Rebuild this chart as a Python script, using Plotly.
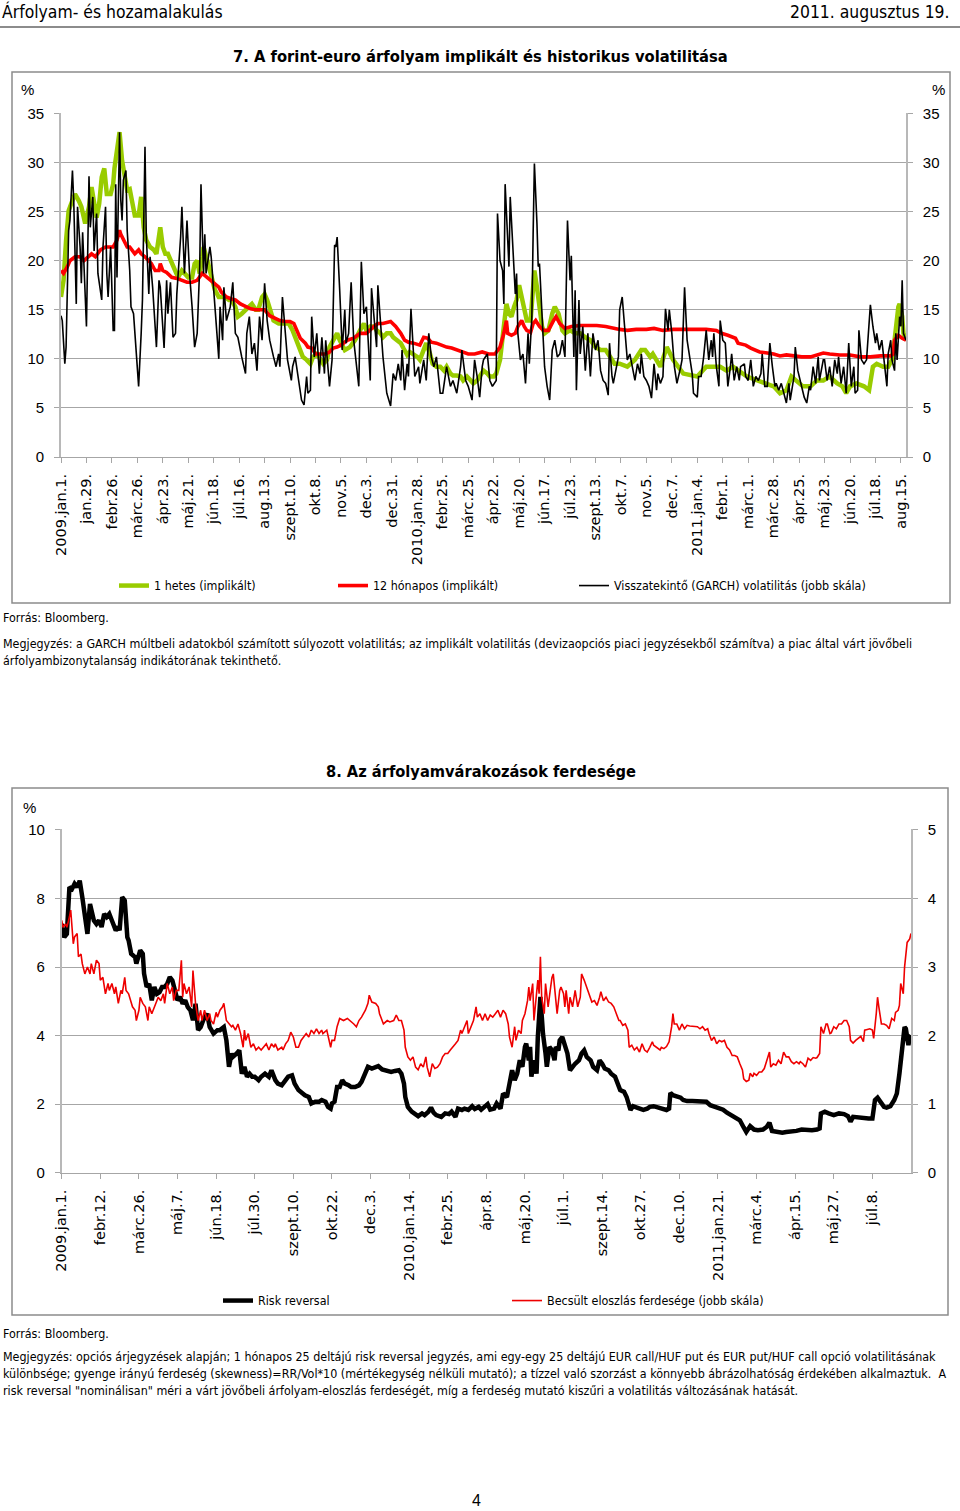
import plotly.graph_objects as go

W, H = 960, 1511

# ------------------------------------------------------------------ chart 7 data
# x = business-day index since 2009-01-01 (category axis, label every 20 days)
labels_7 = ["2009.jan.1.", "jan.29.", "febr.26.", "márc.26.", "ápr.23.", "máj.21.", "jún.18.",
            "júl.16.", "aug.13.", "szept.10.", "okt.8.", "nov.5.", "dec.3.", "dec.31.",
            "2010.jan.28.", "febr.25.", "márc.25.", "ápr.22.", "máj.20.", "jún.17.", "júl.23.",
            "szept.13.", "okt.7.", "nov.5.", "dec.7.", "2011.jan.4.", "febr.1.", "márc.1.",
            "márc.28.", "ápr.25.", "máj.23.", "jún.20.", "júl.18.", "aug.15."]
label_step_7 = 20
last_day_7 = 664

hetes_1 = [(0, 16.3), (2, 18.0), (4, 22.1), (6, 25.1), (8, 25.8), (11, 26.8), (14, 26.1), (16, 25.5),
           (19, 23.8), (22, 25.5), (24, 27.5), (26, 25.8), (28, 24.4), (30, 25.8), (32, 28.5), (34, 29.4),
           (36, 26.8), (39, 26.8), (41, 27.8), (42, 29.4), (44, 31.2), (46, 33.1), (48, 30.2), (50, 28.5),
           (52, 27.2), (54, 27.3), (56, 26.1), (58, 24.6), (61, 24.6), (63, 26.5), (65, 23.4), (67, 22.1),
           (70, 21.4), (73, 21.1), (75, 20.7), (77, 22.7), (78, 23.4), (80, 21.4), (82, 20.7), (84, 20.7),
           (87, 19.7), (90, 18.7), (92, 18.3), (95, 19.0), (97, 18.7), (100, 18.3), (103, 18.3), (105, 19.7),
           (107, 20.0), (109, 18.7), (111, 20.4), (112, 21.4), (115, 20.0), (117, 19.0), (119, 18.0),
           (121, 17.0), (124, 16.3), (126, 16.3), (129, 16.3), (132, 16.0), (134, 16.0), (137, 15.3),
           (139, 14.3), (142, 14.6), (145, 15.0), (147, 15.3), (150, 15.6), (153, 15.0), (155, 15.0),
           (158, 16.3), (160, 16.6), (162, 16.0), (164, 15.0), (167, 13.9), (171, 13.6), (175, 13.6),
           (179, 13.6), (182, 12.9), (185, 11.9), (188, 10.9), (190, 10.2), (193, 9.9), (196, 9.5),
           (198, 10.2), (201, 10.5), (204, 9.9), (206, 9.5), (209, 9.9), (211, 11.2), (214, 11.9),
           (217, 12.6), (219, 11.9), (223, 10.9), (227, 11.2), (231, 11.9), (235, 12.9), (238, 13.6),
           (240, 12.9), (243, 13.3), (246, 13.3), (248, 12.9), (251, 12.6), (253, 12.2), (256, 12.6),
           (259, 12.6), (261, 12.2), (264, 11.9), (267, 11.6), (269, 11.1), (272, 10.4), (274, 10.7),
           (277, 10.5), (280, 10.2), (282, 9.9), (285, 10.9), (287, 11.6), (290, 10.5), (292, 9.5),
           (295, 9.2), (298, 9.2), (301, 8.8), (303, 9.2), (306, 8.5), (308, 8.3), (311, 8.3), (314, 8.2),
           (316, 7.8), (319, 8.2), (322, 7.8), (324, 7.5), (327, 7.8), (329, 8.2), (332, 8.8), (335, 8.5),
           (337, 8.2), (340, 8.2), (342, 8.5), (345, 9.9), (347, 11.9), (349, 14.6), (350, 15.6),
           (352, 14.6), (354, 14.3), (356, 15.3), (358, 16.0), (360, 17.5), (362, 16.3), (364, 15.0),
           (366, 13.9), (369, 13.9), (370, 16.0), (372, 19.0), (374, 17.3), (376, 15.3), (378, 13.3),
           (380, 12.6), (383, 12.9), (386, 14.6), (388, 15.3), (391, 14.6), (394, 12.9), (396, 12.6),
           (400, 12.9), (404, 12.6), (408, 12.6), (412, 12.2), (416, 11.9), (420, 11.2), (424, 10.9),
           (428, 10.9), (432, 10.2), (435, 9.5), (439, 9.5), (445, 9.2), (451, 9.9), (456, 10.9),
           (459, 10.9), (463, 10.2), (465, 10.5), (471, 9.2), (476, 11.2), (481, 9.9), (489, 8.5),
           (500, 8.2), (507, 9.2), (518, 9.2), (523, 8.8), (528, 9.2), (539, 8.2), (547, 7.8), (555, 7.5),
           (560, 7.2), (565, 6.5), (570, 6.8), (574, 8.2), (578, 7.8), (583, 7.2), (589, 7.2), (594, 7.8),
           (599, 7.8), (604, 8.2), (610, 7.5), (614, 7.2), (617, 6.5), (620, 7.2), (625, 7.5), (631, 7.2),
           (635, 6.8), (638, 9.2), (641, 9.5), (646, 9.2), (650, 9.2), (653, 9.9), (655, 11.9),
           (656, 13.3), (658, 15.3), (659, 15.6), (661, 14.3), (662, 12.6), (664, 11.9)]

honapos_12 = [(0, 19.0), (2, 18.7), (5, 19.4), (7, 20.0), (11, 20.4), (15, 20.4), (18, 20.0), (22, 20.4),
              (24, 20.7), (27, 20.4), (31, 21.1), (35, 21.4), (39, 21.4), (41, 21.4), (44, 22.1), (46, 23.1),
              (47, 22.7), (49, 22.1), (52, 21.4), (54, 21.4), (56, 21.1), (58, 20.7), (61, 21.1), (63, 20.7),
              (66, 20.4), (69, 20.0), (71, 19.7), (74, 19.0), (77, 19.0), (78, 19.7), (80, 19.0), (83, 18.8),
              (87, 18.3), (91, 18.2), (95, 18.0), (99, 17.8), (103, 17.8), (107, 18.0), (111, 18.7),
              (113, 18.5), (116, 18.2), (120, 17.7), (124, 17.3), (126, 16.8), (130, 16.3), (134, 16.1),
              (137, 16.0), (141, 15.6), (145, 15.3), (149, 15.1), (153, 15.0), (156, 15.0), (160, 15.0),
              (164, 14.4), (168, 14.1), (172, 13.9), (176, 13.8), (180, 13.8), (183, 13.6), (185, 12.9),
              (188, 12.1), (192, 11.6), (194, 11.2), (197, 11.1), (200, 10.5), (204, 10.5), (208, 10.5),
              (211, 10.7), (214, 11.1), (217, 11.2), (220, 11.4), (225, 11.9), (230, 12.1), (235, 12.6),
              (240, 12.6), (246, 13.3), (249, 13.6), (253, 13.6), (259, 13.8), (263, 13.3), (267, 12.6),
              (270, 11.9), (273, 11.7), (277, 11.6), (282, 11.4), (285, 12.2), (288, 12.1), (291, 11.7),
              (295, 11.6), (299, 11.4), (303, 11.2), (307, 11.1), (311, 10.9), (315, 10.7), (320, 10.5),
              (325, 10.5), (331, 10.7), (336, 10.5), (341, 10.5), (345, 11.2), (348, 12.6), (350, 13.9),
              (351, 12.6), (354, 12.4), (357, 12.6), (359, 13.3), (362, 13.9), (364, 13.3), (366, 12.9),
              (369, 12.7), (371, 13.6), (373, 13.9), (376, 13.3), (379, 12.9), (383, 12.9), (387, 13.9),
              (389, 14.3), (392, 13.6), (396, 13.1), (401, 13.3), (408, 13.4), (415, 13.4), (421, 13.4),
              (428, 13.3), (434, 13.1), (439, 13.0), (445, 12.9), (452, 13.0), (460, 13.0), (466, 13.1),
              (473, 12.9), (481, 13.0), (489, 13.0), (497, 13.0), (507, 13.0), (515, 12.9), (519, 12.6),
              (524, 12.4), (530, 12.1), (532, 11.6), (538, 11.4), (542, 11.1), (545, 10.9), (549, 10.7),
              (555, 10.6), (560, 10.5), (565, 10.3), (570, 10.4), (576, 10.3), (582, 10.2), (589, 10.2),
              (595, 10.4), (599, 10.6), (604, 10.5), (612, 10.4), (620, 10.4), (628, 10.2), (636, 10.2),
              (644, 10.3), (652, 10.3), (654, 10.5), (655, 11.9), (658, 12.4), (661, 12.1), (664, 11.9)]

garch = [(0, 14.4), (1, 13.9), (3, 9.5), (4, 11.2), (6, 23.1), (7, 24.1), (9, 29.2), (10, 26.1), (12, 15.6),
         (13, 25.5), (15, 21.4), (16, 17.7), (17, 22.9), (20, 13.3), (22, 28.6), (23, 23.4), (25, 26.5),
         (26, 21.0), (28, 24.8), (29, 18.7), (32, 16.0), (33, 21.4), (35, 25.5), (36, 18.7), (37, 16.3),
         (39, 21.4), (41, 12.9), (42, 12.9), (43, 27.8), (44, 18.3), (46, 33.1), (47, 26.1), (48, 24.1),
         (49, 28.2), (51, 29.2), (52, 23.1), (54, 19.0), (55, 15.3), (57, 14.6), (61, 7.2), (63, 12.6),
         (64, 16.0), (66, 31.6), (67, 22.7), (69, 16.6), (70, 20.4), (72, 17.3), (75, 11.2), (77, 18.0),
         (78, 17.3), (81, 11.1), (83, 18.0), (84, 14.6), (86, 17.8), (88, 12.2), (90, 12.6), (91, 16.6),
         (94, 22.4), (95, 25.5), (97, 18.7), (99, 24.1), (101, 18.7), (103, 15.3), (105, 11.2), (107, 12.6),
         (109, 19.4), (110, 27.8), (112, 18.7), (113, 22.7), (114, 18.7), (117, 21.4), (118, 20.4),
         (120, 17.0), (121, 15.0), (124, 10.0), (125, 15.3), (127, 11.9), (128, 17.3), (130, 13.9),
         (133, 15.3), (135, 17.8), (137, 12.6), (139, 12.2), (142, 10.2), (145, 8.5), (146, 12.6),
         (148, 14.3), (150, 10.5), (152, 11.6), (154, 8.8), (156, 14.3), (158, 11.9), (160, 17.7),
         (162, 13.9), (164, 11.9), (167, 10.2), (169, 9.2), (171, 10.5), (172, 9.2), (174, 16.3),
         (176, 12.6), (178, 9.9), (181, 7.8), (182, 9.2), (184, 10.2), (187, 7.5), (189, 5.8), (191, 5.3),
         (193, 8.2), (194, 6.5), (196, 6.8), (197, 14.3), (199, 10.2), (201, 12.6), (203, 8.5), (205, 12.2),
         (207, 8.5), (208, 11.9), (211, 7.2), (213, 9.9), (215, 21.6), (216, 21.4), (217, 22.4),
         (219, 17.0), (221, 10.9), (223, 15.0), (224, 11.6), (226, 12.6), (228, 17.8), (230, 11.9),
         (232, 9.5), (234, 7.2), (236, 19.9), (238, 14.6), (240, 15.3), (242, 9.9), (243, 7.8), (244, 17.2),
         (246, 13.9), (248, 11.2), (249, 17.5), (251, 13.9), (253, 10.2), (256, 6.5), (259, 5.2), (261, 8.5),
         (263, 7.8), (265, 9.5), (267, 7.8), (268, 10.9), (270, 6.8), (272, 9.5), (273, 8.2), (275, 15.1),
         (277, 10.5), (278, 8.2), (281, 9.2), (282, 7.5), (285, 9.9), (287, 7.8), (289, 12.6), (291, 10.2),
         (293, 9.2), (295, 10.2), (298, 6.5), (300, 6.5), (303, 9.2), (306, 7.2), (308, 7.8), (311, 6.5),
         (314, 9.2), (315, 10.9), (318, 7.8), (320, 7.2), (323, 5.8), (325, 9.9), (327, 8.2), (329, 6.1),
         (331, 9.2), (332, 9.9), (335, 10.5), (337, 7.8), (339, 7.2), (342, 7.8), (343, 24.8), (345, 20.0),
         (347, 19.0), (348, 15.6), (349, 27.8), (351, 22.1), (352, 19.4), (353, 26.5), (355, 20.7),
         (357, 16.6), (358, 18.7), (359, 12.6), (361, 9.9), (363, 10.5), (365, 7.5), (367, 12.6), (368, 9.5),
         (370, 14.3), (371, 22.7), (372, 29.9), (374, 23.8), (375, 19.4), (376, 19.7), (378, 13.9),
         (380, 9.2), (382, 7.2), (384, 5.8), (386, 10.9), (388, 11.9), (390, 10.2), (392, 10.5), (394, 11.9),
         (396, 10.2), (398, 24.1), (400, 18.0), (401, 20.5), (403, 10.2), (404, 17.0), (405, 6.8), (407, 16.0),
         (408, 10.5), (410, 13.3), (412, 8.8), (414, 12.6), (416, 8.2), (418, 12.6), (420, 10.9), (422, 11.9),
         (424, 8.8), (426, 7.8), (428, 7.5), (430, 6.3), (431, 11.6), (433, 8.2), (434, 7.5), (438, 10.2),
         (439, 15.0), (441, 16.3), (443, 12.6), (445, 9.9), (447, 10.5), (449, 9.2), (451, 7.8), (453, 9.5),
         (455, 8.5), (456, 10.5), (458, 8.2), (460, 7.8), (462, 7.2), (464, 6.0), (466, 9.5), (468, 6.8),
         (469, 8.5), (471, 7.5), (473, 8.2), (475, 15.1), (477, 12.9), (478, 15.0), (480, 12.6), (482, 9.2),
         (484, 7.5), (487, 9.2), (488, 9.9), (490, 17.3), (492, 11.9), (494, 10.2), (496, 8.5), (497, 6.5),
         (500, 6.1), (501, 8.2), (503, 8.2), (505, 10.2), (507, 12.9), (509, 9.9), (511, 11.9), (512, 10.2),
         (513, 12.6), (515, 9.2), (517, 7.2), (518, 13.9), (520, 11.9), (522, 11.6), (524, 7.2), (526, 9.2),
         (527, 10.5), (529, 7.8), (531, 9.2), (533, 7.8), (534, 9.2), (537, 9.5), (538, 8.2), (540, 7.8),
         (542, 9.9), (544, 7.2), (546, 8.2), (548, 7.8), (550, 8.5), (551, 10.5), (553, 7.2), (555, 7.2),
         (557, 11.6), (559, 9.2), (561, 7.2), (562, 7.5), (564, 6.8), (566, 7.5), (568, 6.5), (570, 5.5),
         (572, 7.5), (573, 5.8), (576, 8.2), (577, 11.2), (579, 8.8), (581, 7.8), (583, 6.8), (584, 6.1),
         (586, 5.5), (588, 7.2), (589, 6.8), (591, 9.2), (593, 7.5), (595, 10.2), (596, 7.8), (599, 9.9),
         (600, 9.9), (602, 7.8), (604, 9.2), (606, 7.2), (608, 9.9), (610, 8.5), (611, 10.2), (613, 7.5),
         (615, 9.2), (617, 6.5), (619, 11.6), (621, 7.2), (623, 9.2), (624, 6.5), (626, 6.8), (627, 12.9),
         (629, 9.9), (631, 9.5), (633, 9.9), (636, 15.5), (638, 13.3), (640, 11.6), (641, 12.6), (643, 10.9),
         (645, 11.9), (647, 9.2), (649, 7.2), (650, 10.5), (652, 11.9), (653, 9.9), (655, 8.8), (656, 12.6),
         (657, 9.9), (659, 14.3), (660, 13.3), (661, 18.0), (662, 12.6), (664, 11.9)]

# ------------------------------------------------------------------ chart 8 data
labels_8 = ["2009.jan.1.", "febr.12.", "márc.26.", "máj.7.", "jún.18.", "júl.30.", "szept.10.", "okt.22.",
            "dec.3.", "2010.jan.14.", "febr.25.", "ápr.8.", "máj.20.", "júl.1.", "szept.14.", "okt.27.",
            "dec.10.", "2011.jan.21.", "márc.4.", "ápr.15.", "máj.27.", "júl.8."]
label_step_8 = 30
last_day_8 = 660

risk_reversal = [(0, 7.26), (2, 6.87), (4, 6.97), (6, 8.33), (8, 8.28), (10, 8.43), (12, 8.33), (14, 8.52),
                 (16, 8.04), (18, 7.55), (20, 6.97), (22, 7.84), (23, 7.65), (25, 7.36), (27, 7.26), (29, 7.36),
                 (31, 7.17), (33, 7.55), (35, 7.46), (37, 7.55), (39, 7.36), (42, 7.07), (44, 7.17), (45, 7.07),
                 (47, 8.04), (49, 7.94), (51, 6.87), (52, 6.78), (54, 6.39), (57, 6.29), (58, 6.10), (61, 6.49),
                 (63, 6.39), (64, 5.81), (66, 5.42), (68, 5.51), (70, 5.03), (72, 5.42), (74, 5.22), (76, 5.27),
                 (78, 5.42), (80, 5.42), (82, 5.51), (84, 5.71), (86, 5.61), (88, 5.32), (90, 5.03), (92, 5.13),
                 (94, 4.93), (96, 5.03), (98, 4.83), (100, 4.74), (102, 4.45), (104, 4.93), (106, 4.16),
                 (108, 4.25), (110, 4.45), (113, 4.64), (115, 4.25), (118, 4.06), (121, 4.16), (123, 4.16),
                 (126, 4.25), (128, 3.86), (130, 3.09), (132, 3.48), (133, 3.38), (136, 3.48), (138, 3.57),
                 (140, 2.89), (142, 3.09), (144, 2.80), (146, 2.89), (148, 2.80), (150, 2.80), (153, 2.70),
                 (155, 2.80), (158, 2.89), (161, 2.80), (163, 2.99), (166, 2.70), (168, 2.60), (171, 2.55),
                 (174, 2.70), (176, 2.80), (179, 2.84), (181, 2.60), (184, 2.41), (187, 2.31), (189, 2.26),
                 (192, 2.21), (194, 2.02), (197, 2.07), (200, 2.07), (202, 2.12), (205, 2.07), (207, 1.92),
                 (209, 1.87), (210, 2.02), (212, 2.07), (214, 2.50), (216, 2.50), (218, 2.70), (220, 2.60),
                 (223, 2.55), (225, 2.50), (228, 2.50), (231, 2.55), (233, 2.65), (236, 2.89), (238, 3.09),
                 (241, 3.04), (244, 3.09), (246, 3.11), (249, 3.01), (251, 2.99), (254, 2.97), (256, 2.94),
                 (259, 2.97), (262, 2.99), (264, 2.89), (266, 2.60), (267, 2.21), (269, 1.92), (272, 1.78),
                 (275, 1.68), (277, 1.65), (280, 1.73), (282, 1.68), (285, 1.78), (287, 1.90), (289, 1.75),
                 (291, 1.68), (295, 1.63), (298, 1.73), (301, 1.71), (303, 1.78), (306, 1.63), (308, 1.87),
                 (311, 1.83), (313, 1.87), (316, 1.83), (319, 1.94), (321, 1.86), (324, 1.92), (326, 1.84),
                 (329, 1.92), (331, 2.00), (333, 1.84), (336, 1.87), (338, 2.02), (341, 1.87), (343, 2.31),
                 (346, 2.21), (348, 2.60), (350, 2.99), (352, 2.70), (354, 2.89), (356, 3.28), (358, 3.09),
                 (360, 3.67), (361, 3.77), (363, 3.28), (364, 3.67), (365, 2.80), (367, 3.28), (369, 2.89),
                 (370, 3.96), (372, 5.13), (373, 4.25), (374, 4.06), (376, 3.48), (377, 3.09), (379, 3.67),
                 (381, 3.57), (383, 3.28), (384, 3.67), (386, 3.57), (387, 3.86), (389, 3.96), (391, 3.67),
                 (393, 3.48), (395, 2.99), (397, 3.09), (399, 3.18), (402, 3.28), (404, 3.48), (406, 3.57),
                 (408, 3.38), (411, 3.28), (413, 3.09), (416, 2.99), (418, 3.28), (420, 3.18), (422, 3.04),
                 (425, 2.99), (427, 2.89), (430, 2.80), (433, 2.55), (434, 2.41), (437, 2.36), (439, 2.21),
                 (442, 1.83), (444, 1.94), (447, 1.90), (449, 1.87), (452, 1.83), (455, 1.87), (457, 1.92),
                 (460, 1.94), (462, 1.92), (465, 1.90), (468, 1.87), (470, 1.83), (472, 1.87), (473, 2.33),
                 (475, 2.26), (478, 2.23), (481, 2.19), (483, 2.12), (486, 2.09), (490, 2.09), (494, 2.09),
                 (497, 2.10), (501, 2.07), (504, 1.97), (508, 1.92), (511, 1.90), (514, 1.84), (517, 1.75),
                 (521, 1.65), (524, 1.61), (527, 1.53), (530, 1.32), (532, 1.19), (535, 1.36), (538, 1.26),
                 (541, 1.24), (545, 1.26), (548, 1.34), (550, 1.46), (552, 1.22), (556, 1.19), (560, 1.17),
                 (563, 1.19), (567, 1.19), (571, 1.22), (575, 1.26), (579, 1.24), (583, 1.24), (587, 1.26),
                 (589, 1.29), (590, 1.73), (593, 1.78), (596, 1.73), (600, 1.68), (604, 1.73), (608, 1.71),
                 (611, 1.65), (613, 1.49), (615, 1.63), (619, 1.61), (623, 1.58), (627, 1.58), (630, 1.58),
                 (632, 2.12), (634, 2.19), (636, 2.07), (639, 1.92), (641, 1.90), (644, 1.94), (647, 2.12),
                 (649, 2.31), (651, 2.89), (652, 3.28), (654, 3.86), (655, 4.25), (656, 4.20), (658, 3.72),
                 (659, 3.96), (660, 4.01)]

skewness = [(0, 3.68), (1, 3.58), (3, 3.63), (4, 3.58), (6, 3.73), (7, 3.83), (9, 3.34), (10, 3.44), (12, 3.49),
            (13, 3.15), (15, 3.19), (16, 3.05), (18, 2.90), (20, 3.00), (22, 2.90), (23, 3.05), (25, 2.90),
            (27, 3.10), (29, 3.05), (30, 2.81), (32, 2.85), (34, 2.61), (36, 2.76), (37, 2.66), (39, 2.76),
            (41, 2.61), (42, 2.71), (44, 2.47), (46, 2.66), (47, 2.61), (49, 2.85), (50, 2.66), (52, 2.61),
            (54, 2.47), (55, 2.42), (57, 2.37), (58, 2.22), (60, 2.37), (61, 2.56), (63, 2.47), (65, 2.42),
            (67, 2.22), (68, 2.42), (70, 2.32), (72, 2.42), (73, 2.47), (75, 2.56), (77, 2.51), (79, 2.61),
            (80, 2.47), (82, 2.76), (84, 2.61), (86, 2.71), (87, 2.51), (89, 2.66), (91, 2.66), (93, 3.10),
            (94, 2.56), (95, 2.76), (97, 2.61), (99, 2.71), (101, 2.42), (102, 2.95), (104, 2.47), (106, 2.22),
            (108, 2.37), (109, 2.22), (111, 2.37), (113, 2.22), (115, 2.32), (116, 2.22), (118, 2.17),
            (120, 2.34), (121, 2.27), (123, 2.37), (125, 2.42), (126, 2.47), (128, 2.22), (130, 2.17),
            (132, 2.13), (133, 2.15), (135, 2.08), (137, 2.17), (139, 2.03), (141, 1.83), (142, 2.08),
            (143, 1.93), (145, 2.03), (147, 1.83), (149, 1.88), (151, 1.79), (153, 1.83), (155, 1.79),
            (157, 1.83), (159, 1.88), (161, 1.79), (163, 1.88), (165, 1.83), (166, 1.88), (168, 1.79),
            (171, 1.83), (172, 1.79), (174, 1.88), (176, 1.93), (178, 2.05), (180, 1.98), (182, 1.83),
            (184, 1.83), (186, 1.93), (188, 1.98), (190, 2.03), (192, 1.98), (194, 2.08), (196, 2.03),
            (198, 2.10), (200, 2.03), (202, 2.08), (203, 2.03), (206, 2.08), (209, 1.83), (210, 1.93),
            (212, 1.93), (214, 2.13), (216, 2.25), (219, 2.22), (222, 2.25), (224, 2.22), (227, 2.17),
            (229, 2.13), (231, 2.22), (233, 2.27), (236, 2.37), (238, 2.47), (239, 2.59), (241, 2.49),
            (244, 2.47), (246, 2.42), (247, 2.32), (250, 2.17), (253, 2.22), (255, 2.20), (258, 2.22),
            (260, 2.30), (262, 2.22), (264, 2.22), (266, 2.08), (267, 1.83), (269, 1.69), (271, 1.64),
            (273, 1.69), (275, 1.54), (277, 1.50), (279, 1.59), (281, 1.54), (283, 1.69), (284, 1.54),
            (286, 1.40), (288, 1.59), (290, 1.52), (292, 1.54), (294, 1.59), (296, 1.69), (298, 1.74),
            (300, 1.74), (302, 1.79), (304, 1.83), (306, 1.88), (308, 1.93), (310, 2.08), (311, 2.03),
            (313, 2.13), (315, 2.22), (316, 2.03), (318, 2.13), (320, 2.22), (322, 2.42), (323, 2.27),
            (325, 2.32), (327, 2.22), (329, 2.32), (331, 2.22), (333, 2.30), (335, 2.27), (337, 2.32),
            (339, 2.37), (341, 2.27), (343, 2.37), (345, 2.32), (347, 2.17), (348, 1.98), (350, 1.83),
            (352, 2.13), (353, 1.93), (355, 2.08), (357, 2.03), (358, 2.22), (360, 2.32), (362, 2.51),
            (363, 2.71), (364, 2.51), (366, 2.76), (367, 2.22), (369, 2.61), (370, 2.81), (371, 2.61),
            (372, 3.15), (373, 2.56), (375, 2.32), (376, 2.76), (378, 2.42), (380, 2.71), (381, 2.85),
            (382, 2.90), (383, 2.71), (385, 2.32), (387, 2.66), (388, 2.71), (390, 2.61), (391, 2.42),
            (392, 2.66), (394, 2.32), (395, 2.56), (397, 2.42), (399, 2.66), (401, 2.42), (403, 2.56),
            (404, 2.90), (406, 2.81), (408, 2.71), (410, 2.61), (412, 2.49), (414, 2.51), (416, 2.44),
            (418, 2.56), (419, 2.64), (421, 2.51), (423, 2.56), (425, 2.49), (427, 2.47), (429, 2.42),
            (431, 2.32), (433, 2.22), (434, 2.22), (436, 2.15), (438, 2.17), (440, 2.08), (441, 1.83),
            (443, 1.86), (445, 1.79), (447, 1.83), (449, 1.76), (451, 1.88), (453, 1.79), (455, 1.76),
            (457, 1.83), (459, 1.91), (460, 1.86), (462, 1.83), (465, 1.79), (466, 1.83), (468, 1.81),
            (470, 1.84), (472, 1.91), (474, 2.13), (475, 2.32), (476, 2.17), (478, 2.17), (480, 2.08),
            (482, 2.17), (484, 2.10), (486, 2.15), (488, 2.14), (491, 2.14), (494, 2.13), (496, 2.10),
            (498, 2.13), (500, 2.08), (502, 2.10), (503, 2.03), (505, 1.93), (507, 1.98), (509, 1.88),
            (511, 1.93), (513, 1.91), (515, 1.93), (517, 1.83), (519, 1.79), (521, 1.71), (523, 1.71),
            (525, 1.69), (527, 1.59), (529, 1.50), (530, 1.37), (532, 1.33), (534, 1.35), (535, 1.45),
            (537, 1.40), (538, 1.45), (540, 1.42), (542, 1.47), (544, 1.47), (546, 1.52), (548, 1.64),
            (550, 1.76), (551, 1.54), (553, 1.59), (555, 1.57), (557, 1.64), (559, 1.59), (561, 1.76),
            (563, 1.69), (565, 1.69), (567, 1.62), (569, 1.59), (571, 1.62), (573, 1.59), (574, 1.62),
            (576, 1.59), (578, 1.54), (580, 1.67), (582, 1.64), (584, 1.68), (586, 1.67), (587, 1.68),
            (589, 1.74), (590, 2.13), (592, 2.03), (594, 2.17), (595, 2.17), (597, 2.03), (598, 2.04),
            (600, 2.13), (602, 2.10), (604, 2.17), (606, 2.17), (608, 2.22), (610, 2.22), (612, 2.13),
            (613, 1.93), (615, 1.89), (617, 1.93), (619, 1.96), (621, 1.99), (623, 1.91), (624, 2.08),
            (626, 2.09), (628, 2.10), (630, 2.08), (631, 1.96), (633, 2.32), (634, 2.56), (635, 2.42),
            (637, 2.17), (639, 2.17), (641, 2.15), (643, 2.10), (645, 2.25), (647, 2.22), (648, 2.34),
            (650, 2.37), (651, 2.44), (652, 2.76), (654, 2.61), (655, 3.00), (656, 3.22), (657, 3.36),
            (659, 3.41), (660, 3.49)]

# ------------------------------------------------------------------ texts
header_left = "Árfolyam- és hozamalakulás"
header_right = "2011. augusztus 19."
title_7 = "7. A forint-euro árfolyam implikált és historikus volatilitása"
title_8 = "8. Az árfolyamvárakozások ferdesége"
names_7 = ["1 hetes (implikált)", "12 hónapos (implikált)", "Visszatekintő (GARCH) volatilitás (jobb skála)"]
names_8 = ["Risk reversal", "Becsült eloszlás ferdesége (jobb skála)"]
source = "Forrás: Bloomberg."
note_7 = ["Megjegyzés: a GARCH múltbeli adatokból számított súlyozott volatilitás; az implikált volatilitás "
          "(devizaopciós piaci jegyzésekből számítva) a piac által várt jövőbeli",
          "árfolyambizonytalanság indikátorának tekinthető."]
note_8 = ["Megjegyzés: opciós árjegyzések alapján; 1 hónapos 25 deltájú risk reversal jegyzés, ami egy-egy "
          "25 deltájú EUR call/HUF put és EUR put/HUF call opció volatilitásának",
          "különbsége; gyenge irányú ferdeség (skewness)=RR/Vol*10 (mértékegység nélküli mutató); a tízzel "
          "való szorzást a könnyebb ábrázolhatóság érdekében alkalmaztuk.&nbsp; A",
          "risk reversal \"nominálisan\" méri a várt jövőbeli árfolyam-eloszlás ferdeségét, míg a ferdeség "
          "mutató kiszűri a volatilitás változásának hatását."]
page_no = "4"

# ------------------------------------------------------------------ styling
NARROW = "DejaVu Sans Condensed, Liberation Sans Narrow, Arial Narrow, sans-serif"
TICKF = "DejaVu Sans, Verdana, sans-serif"
NUMF = "Liberation Sans, Arial, sans-serif"
GRID = "#a6a6a6"
AXL = "#b8b8b8"
GREEN = "#99CC00"
RED = "#FF0000"


def px(x):
    return x / W


def py(y):
    return 1 - y / H


def unzip(pts):
    return [p[0] for p in pts], [p[1] for p in pts]


fig = go.Figure()

d, v = unzip(hetes_1)
fig.add_trace(go.Scatter(x=d, y=v, mode="lines", name=names_7[0], line=dict(color=GREEN, width=4.5),
                         xaxis="x", yaxis="y", legend="legend"))
d, v = unzip(honapos_12)
fig.add_trace(go.Scatter(x=d, y=v, mode="lines", name=names_7[1], line=dict(color=RED, width=3.6),
                         xaxis="x", yaxis="y", legend="legend2"))
d, v = unzip(garch)
fig.add_trace(go.Scatter(x=d, y=v, mode="lines", name=names_7[2], line=dict(color="black", width=1.6),
                         xaxis="x", yaxis="y2", legend="legend3"))
d, v = unzip(risk_reversal)
fig.add_trace(go.Scatter(x=d, y=v, mode="lines", name=names_8[0], line=dict(color="black", width=4.5),
                         xaxis="x2", yaxis="y3", legend="legend4"))
d, v = unzip(skewness)
fig.add_trace(go.Scatter(x=d, y=v, mode="lines", name=names_8[1], line=dict(color="#EE0000", width=1.6),
                         xaxis="x2", yaxis="y4", legend="legend5"))

common_x = dict(tickangle=-90, ticks="outside", ticklen=5, tickcolor=GRID, showline=True, linecolor=GRID,
                linewidth=1.2, showgrid=False, zeroline=False,
                tickfont=dict(family=TICKF, size=14.5, color="black"), ticklabelstandoff=5, fixedrange=True)
common_y = dict(ticks="outside", ticklen=5, tickcolor=GRID, showline=True, linecolor=AXL, linewidth=1.6,
                zeroline=False, tickfont=dict(family=NUMF, size=15, color="black"), ticklabelstandoff=7,
                fixedrange=True)

fig.update_layout(
    width=W, height=H, autosize=False, margin=dict(l=0, r=0, t=0, b=0, pad=0, autoexpand=False),
    paper_bgcolor="white", plot_bgcolor="white",
    xaxis=dict(common_x, domain=[px(61), px(906)], range=[0, last_day_7], anchor="y",
               tickvals=[k * label_step_7 for k in range(len(labels_7))], ticktext=labels_7),
    yaxis=dict(common_y, domain=[py(457), py(113)], range=[0, 35.05], dtick=5, tick0=0, showgrid=True,
               gridcolor=GRID, gridwidth=1, anchor="x"),
    yaxis2=dict(common_y, overlaying="y", side="right", range=[0, 35.05], dtick=5, tick0=0, showgrid=False,
                anchor="x"),
    xaxis2=dict(common_x, domain=[px(61.7), px(911)], range=[0, last_day_8], anchor="y3",
                tickvals=[k * label_step_8 for k in range(len(labels_8))], ticktext=labels_8),
    yaxis3=dict(common_y, domain=[py(1172.7), py(829.3)], range=[0, 10.02], dtick=2, tick0=0, showgrid=True,
                gridcolor=GRID, gridwidth=1, anchor="x2"),
    yaxis4=dict(common_y, overlaying="y3", side="right", range=[0, 5.01], dtick=1, tick0=0, showgrid=False,
                anchor="x2"),
    showlegend=True,
)

leg_font = dict(family=NARROW, size=12.4, color="black")


def leg(text_x, y):
    return dict(x=px(text_x - 40), y=py(y), xanchor="left", yanchor="middle", orientation="h",
                bgcolor="rgba(0,0,0,0)", borderwidth=0, font=leg_font, itemwidth=30, itemclick=False,
                itemdoubleclick=False)


fig.update_layout(legend=leg(154, 586), legend2=leg(373, 586), legend3=leg(614, 586),
                  legend4=leg(258, 1301), legend5=leg(547, 1301))

shapes = [
    dict(type="line", xref="paper", yref="paper", x0=0, x1=1, y0=py(27), y1=py(27),
         line=dict(color="#8c8c8c", width=2)),
    dict(type="rect", xref="paper", yref="paper", x0=px(12), x1=px(950), y0=py(603), y1=py(72),
         line=dict(color="#8c8c8c", width=1.5)),
    dict(type="rect", xref="paper", yref="paper", x0=px(12), x1=px(948), y0=py(1315), y1=py(788),
         line=dict(color="#8c8c8c", width=1.5)),
]
fig.update_layout(shapes=shapes)

ann = []


def text(s, x, y, size=12.4, family=NARROW, anchor="left", bold=False, color="black"):
    ann.append(dict(text=("<b>%s</b>" % s) if bold else s, x=px(x), y=py(y), xref="paper", yref="paper",
                    xanchor=anchor, yanchor="middle", showarrow=False, borderpad=0,
                    font=dict(family=family, size=size, color=color)))


text(header_left, 1, 12, size=17.4)
text(header_right, 951, 12, size=17.4, anchor="right")
text(title_7, 480, 56, size=16.4, bold=True, anchor="center")
text("%", 27, 90, size=15, family=NUMF, anchor="center")
text("%", 938, 90, size=15, family=NUMF, anchor="center")
text(source, 2, 617)
text(note_7[0], 2, 643)
text(note_7[1], 2, 660)
text(title_8, 481, 771, size=16.3, bold=True, anchor="center")
text("%", 29, 807, size=15, family=NUMF, anchor="center")
text(source, 2, 1333)
for k, line in enumerate(note_8):
    text(line, 2, 1356 + 17 * k)
text(page_no, 476, 1500, size=16, family=NUMF, anchor="center")
fig.update_layout(annotations=ann)

# the page body has a default 8px margin; remove it so the figure fills the window exactly
fig.write_html("out.html", config={"displayModeBar": False},
               post_script="document.body.style.margin='0px';document.body.style.padding='0px';")
